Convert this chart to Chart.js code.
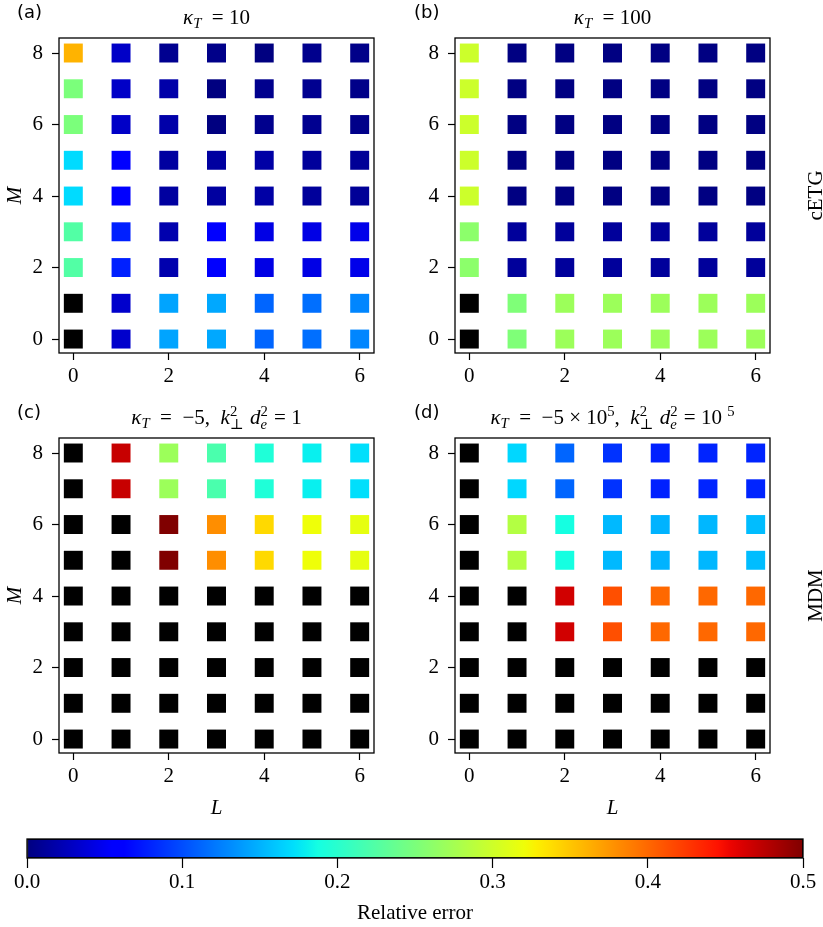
<!DOCTYPE html>
<html>
<head>
<meta charset="utf-8">
<script src="https://cdn.jsdelivr.net/npm/chart.js@4.4.0/dist/chart.umd.min.js"></script>
<style>
    body { margin: 0; background: #fff; width: 823px; height: 927px; position: relative; overflow: hidden; }
    canvas { position: absolute; }
</style>
</head>
<body>
<canvas id="chartA" width="411" height="400" style="left:0px;top:0px"></canvas>
<canvas id="chartB" width="412" height="400" style="left:411px;top:0px"></canvas>
<canvas id="chartC" width="411" height="425" style="left:0px;top:400px"></canvas>
<canvas id="chartD" width="412" height="425" style="left:411px;top:400px"></canvas>
<canvas id="colorbar" width="823" height="102" style="left:0px;top:825px"></canvas>
<script>
// eixos
const LS = [0, 1, 2, 3, 4, 5, 6];
const MS = [0, 1, 2, 3, 4, 5, 6, 7, 8];
const X_TICKS = [0, 2, 4, 6];
const Y_TICKS = [0, 2, 4, 6, 8];
const CB_TICKS = [0, 0.1, 0.2, 0.3, 0.4, 0.5];
const CB_MIN = 0, CB_MAX = 0.5;

// erro relativo, linhas M = 0..8, colunas L = 0..6 (null = quadrado preto)
const errA = [
    [null, 0.033, 0.143, 0.145, 0.112, 0.117, 0.128],
    [null, 0.033, 0.143, 0.145, 0.112, 0.117, 0.128],
    [0.225, 0.078, 0.020, 0.055, 0.044, 0.044, 0.046],
    [0.225, 0.078, 0.020, 0.055, 0.044, 0.044, 0.046],
    [0.170, 0.058, 0.014, 0.014, 0.016, 0.012, 0.010],
    [0.170, 0.058, 0.014, 0.014, 0.016, 0.012, 0.010],
    [0.250, 0.031, 0.018, 0.000, 0.006, 0.007, 0.004],
    [0.250, 0.031, 0.018, 0.000, 0.006, 0.007, 0.004],
    [0.360, 0.031, 0.007, 0.004, 0.000, 0.006, 0.004]
];
const errB = [
    [null, 0.252, 0.270, 0.270, 0.270, 0.270, 0.270],
    [null, 0.252, 0.270, 0.270, 0.270, 0.270, 0.270],
    [0.260, 0.012, 0.012, 0.012, 0.012, 0.012, 0.012],
    [0.260, 0.012, 0.012, 0.012, 0.012, 0.012, 0.012],
    [0.299, 0.001, 0.001, 0.001, 0.001, 0.001, 0.001],
    [0.299, 0.001, 0.001, 0.001, 0.001, 0.001, 0.001],
    [0.299, 0.001, 0.001, 0.001, 0.001, 0.001, 0.001],
    [0.299, 0.001, 0.001, 0.001, 0.001, 0.001, 0.001],
    [0.299, 0.001, 0.001, 0.001, 0.001, 0.001, 0.001]
];
const errC = [
    [null, null, null, null, null, null, null],
    [null, null, null, null, null, null, null],
    [null, null, null, null, null, null, null],
    [null, null, null, null, null, null, null],
    [null, null, null, null, null, null, null],
    [null, null, 0.500, 0.380, 0.340, 0.320, 0.315],
    [null, null, 0.500, 0.380, 0.340, 0.320, 0.315],
    [null, 0.469, 0.270, 0.220, 0.194, 0.180, 0.172],
    [null, 0.469, 0.270, 0.220, 0.194, 0.180, 0.172]
];
const errD = [
    [null, null, null, null, null, null, null],
    [null, null, null, null, null, null, null],
    [null, null, null, null, null, null, null],
    [null, null, 0.465, 0.413, 0.400, 0.400, 0.400],
    [null, null, 0.465, 0.413, 0.400, 0.400, 0.400],
    [null, 0.284, 0.188, 0.153, 0.150, 0.152, 0.155],
    [null, 0.284, 0.188, 0.153, 0.150, 0.152, 0.155],
    [null, 0.168, 0.112, 0.087, 0.078, 0.080, 0.080],
    [null, 0.168, 0.112, 0.087, 0.078, 0.080, 0.080]
];

const SERIF = '"Liberation Serif", "DejaVu Serif", serif';
const FS = 21; // tamanho da fonte serifada

// colormap jet (igual ao matplotlib)
const JET = {
    r: [[0, 0], [0.35, 0], [0.66, 1], [0.89, 1], [1, 0.5]],
    g: [[0, 0], [0.125, 0], [0.375, 1], [0.64, 1], [0.91, 0], [1, 0]],
    b: [[0, 0.5], [0.11, 1], [0.34, 1], [0.65, 0], [1, 0]]
};
function interpCanal(pts, t) {
    for (let i = 1; i < pts.length; i++) {
        if (t <= pts[i][0]) {
            let f = (t - pts[i - 1][0]) / (pts[i][0] - pts[i - 1][0]);
            return pts[i - 1][1] + f * (pts[i][1] - pts[i - 1][1]);
        }
    }
    return pts[pts.length - 1][1];
}
function jet(t) {
    t = Math.max(0, Math.min(1, t));
    let r = Math.round(255 * interpCanal(JET.r, t));
    let g = Math.round(255 * interpCanal(JET.g, t));
    let b = Math.round(255 * interpCanal(JET.b, t));
    return `rgb(${r},${g},${b})`;
}
function corDoErro(v) {
    return v === null ? '#000000' : jet((v - CB_MIN) / (CB_MAX - CB_MIN));
}

// texto com sub/sobrescrito
function fonte(sz, it) {
    return (it ? 'italic ' : '') + sz + 'px ' + SERIF;
}
function larguraRun(ctx, r, S) {
    if (r.hi) {
        ctx.font = fonte(S * 0.7, r.hi.it);
        let w1 = ctx.measureText(r.hi.t).width;
        ctx.font = fonte(S * 0.7, r.lo.it);
        let w2 = ctx.measureText(r.lo.t).width;
        return Math.max(w1, w2) + 1;
    }
    ctx.font = fonte((r.sub || r.sup) ? S * 0.7 : S, r.it);
    return ctx.measureText(r.t).width;
}
function desenhaRich(ctx, runs, cx, y, S) {
    let total = runs.reduce((acc, r) => acc + larguraRun(ctx, r, S), 0);
    let x = cx - total / 2;
    ctx.save();
    ctx.fillStyle = '#000';
    ctx.textBaseline = 'alphabetic';
    ctx.textAlign = 'left';
    runs.forEach((r) => {
        let w = larguraRun(ctx, r, S);
        if (r.hi) {
            ctx.font = fonte(S * 0.7, r.hi.it);
            ctx.fillText(r.hi.t, x, y - S * 0.4);
            ctx.font = fonte(S * 0.7, r.lo.it);
            ctx.fillText(r.lo.t, x, y + S * 0.22);
        } else if (r.sub) {
            ctx.font = fonte(S * 0.7, r.it);
            ctx.fillText(r.t, x, y + S * 0.18);
        } else if (r.sup) {
            ctx.font = fonte(S * 0.7, r.it);
            ctx.fillText(r.t, x, y - S * 0.4);
        } else {
            ctx.font = fonte(S, r.it);
            ctx.fillText(r.t, x, y);
        }
        x += w;
    });
    ctx.restore();
}

const kappaT = [{ t: 'κ', it: true }, { t: 'T', it: true, sub: true }];
const kd = [
    { t: 'k', it: true }, { hi: { t: '2' }, lo: { t: '⊥' } }, { t: ' ' },
    { t: 'd', it: true }, { hi: { t: '2' }, lo: { t: 'e', it: true } }
];
const titulos = {
    a: kappaT.concat([{ t: '  = 10' }]),
    b: kappaT.concat([{ t: '  = 100' }]),
    c: kappaT.concat([{ t: '  =  −5,  ' }], kd, [{ t: ' = 1' }]),
    d: kappaT.concat([{ t: '  =  −5 × 10' }, { t: '5', sup: true }, { t: ',  ' }], kd, [{ t: ' = 10 ' }, { t: '5', sup: true }])
};

// moldura + textos de cada painel
const anotacoes = {
    id: 'anotacoes',
    afterDatasetsDraw: (chart, args, opts) => {
        const { ctx, chartArea: { left, top, right, bottom } } = chart;
        ctx.save();
        ctx.strokeStyle = '#000';
        ctx.lineWidth = 1.3;
        ctx.strokeRect(left, top, right - left, bottom - top);
        if (opts.letra) {
            ctx.font = '18px "DejaVu Sans", sans-serif';
            ctx.fillStyle = '#000';
            ctx.textAlign = 'left';
            ctx.textBaseline = 'alphabetic';
            ctx.fillText(opts.letra, opts.letraX, 18);
        }
        if (opts.lado) {
            ctx.translate(opts.ladoX, (top + bottom) / 2);
            ctx.rotate(-Math.PI / 2);
            ctx.font = FS + 'px ' + SERIF;
            ctx.textAlign = 'center';
            ctx.textBaseline = 'middle';
            ctx.fillText(opts.lado, 0, 0);
        }
        ctx.restore();
        if (opts.titulo) desenhaRich(ctx, opts.titulo, (left + right) / 2, 24, FS);
    }
};
Chart.register(anotacoes);

function montaPainel(id, err, cfg) {
    let pontos = [], cores = [];
    MS.forEach((m, i) => {
        LS.forEach((l, j) => {
            pontos.push({ x: l, y: m });
            cores.push(corDoErro(err[i][j]));
        });
    });
    return new Chart(id, {
        type: 'scatter',
        data: {
            datasets: [{
                data: pontos,
                pointStyle: 'rect',
                pointRadius: 13.4,
                pointHoverRadius: 13.4,
                pointBackgroundColor: cores,
                pointBorderWidth: 0,
                borderWidth: 0
            }]
        },
        options: {
            responsive: false,
            animation: false,
            events: [],
            layout: { padding: { top: 38, right: cfg.padRight, left: 0, bottom: 0 } },
            plugins: {
                legend: { display: false },
                tooltip: { enabled: false },
                anotacoes: { letra: cfg.letra, letraX: cfg.letraX, titulo: cfg.titulo, lado: cfg.lado, ladoX: cfg.ladoX }
            },
            scales: {
                x: {
                    type: 'linear', min: -0.3, max: 6.3,
                    afterBuildTicks: (s) => { s.ticks = X_TICKS.map(v => ({ value: v })); },
                    afterFit: (s) => { s.height = cfg.xHeight; },
                    ticks: { color: '#000', font: { family: SERIF, size: FS }, padding: 4, maxRotation: 0, autoSkip: false },
                    grid: { drawOnChartArea: false, drawTicks: true, tickLength: 7, tickColor: '#000', tickWidth: 1.2 },
                    border: { display: false },
                    title: { display: cfg.xTitle, text: 'L', color: '#000', font: { family: SERIF, size: FS, style: 'italic' }, padding: { top: 0, bottom: 4 } }
                },
                y: {
                    type: 'linear', min: -0.39, max: 8.42,
                    afterBuildTicks: (s) => { s.ticks = Y_TICKS.map(v => ({ value: v })); },
                    afterFit: (s) => { s.width = cfg.yWidth; },
                    ticks: { color: '#000', font: { family: SERIF, size: FS }, padding: 9, autoSkip: false },
                    grid: { drawOnChartArea: false, drawTicks: true, tickLength: 7, tickColor: '#000', tickWidth: 1.2 },
                    border: { display: false },
                    title: { display: cfg.yTitle, text: 'M', color: '#000', font: { family: SERIF, size: FS, style: 'italic' }, padding: { top: 3, bottom: 0 } }
                }
            }
        }
    });
}

montaPainel('chartA', errA, { letra: '(a)', letraX: 17, titulo: titulos.a, yWidth: 59, padRight: 37, xHeight: 47, xTitle: false, yTitle: true });
montaPainel('chartB', errB, { letra: '(b)', letraX: 3, titulo: titulos.b, yWidth: 44, padRight: 53, xHeight: 47, xTitle: false, yTitle: false, lado: 'cETG', ladoX: 405 });
montaPainel('chartC', errC, { letra: '(c)', letraX: 17, titulo: titulos.c, yWidth: 59, padRight: 37, xHeight: 72, xTitle: true, yTitle: true });
montaPainel('chartD', errD, { letra: '(d)', letraX: 3, titulo: titulos.d, yWidth: 44, padRight: 53, xHeight: 72, xTitle: true, yTitle: false, lado: 'MDM', ladoX: 405 });

// barra de cores
new Chart('colorbar', {
    type: 'bar',
    data: {
        labels: ['erro'],
        datasets: [{
            data: [[CB_MIN, CB_MAX]],
            backgroundColor: (c) => {
                const ca = c.chart.chartArea;
                if (!ca) return '#000';
                const grad = c.chart.ctx.createLinearGradient(ca.left, 0, ca.right, 0);
                for (let i = 0; i <= 64; i++) grad.addColorStop(i / 64, jet(i / 64));
                return grad;
            },
            borderColor: '#000',
            borderWidth: 1,
            borderSkipped: false,
            barPercentage: 1,
            categoryPercentage: 1
        }]
    },
    options: {
        indexAxis: 'y',
        responsive: false,
        animation: false,
        events: [],
        layout: { padding: { top: 14, left: 27, right: 20, bottom: 0 } },
        plugins: { legend: { display: false }, tooltip: { enabled: false } },
        scales: {
            y: { display: false },
            x: {
                type: 'linear', min: CB_MIN, max: CB_MAX,
                afterBuildTicks: (s) => { s.ticks = CB_TICKS.map(v => ({ value: v })); },
                afterFit: (s) => { s.height = 69; },
                ticks: { color: '#000', font: { family: SERIF, size: FS }, padding: 2, maxRotation: 0, autoSkip: false, callback: (v) => Number(v).toFixed(1) },
                grid: { drawOnChartArea: false, drawTicks: true, tickLength: 10, tickColor: '#000', tickWidth: 1.2 },
                border: { display: false },
                title: { display: true, text: 'Relative error', color: '#000', font: { family: SERIF, size: FS }, padding: { top: 0, bottom: 1 } }
            }
        }
    }
});
</script>
</body>
</html>
